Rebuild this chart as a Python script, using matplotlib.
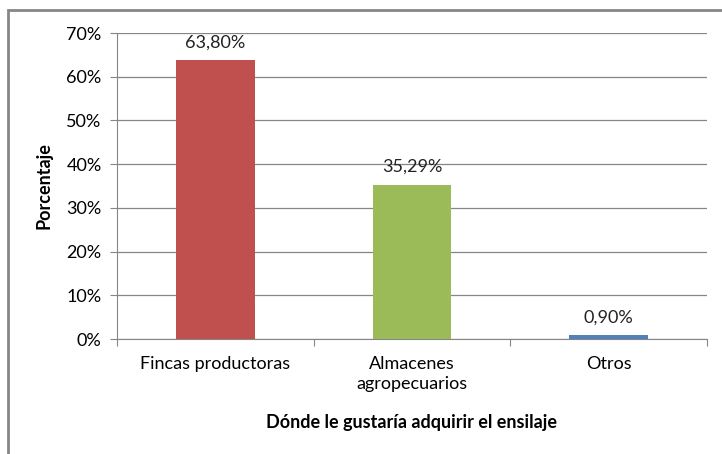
import matplotlib.pyplot as plt
from matplotlib.patches import Rectangle
from matplotlib.ticker import FuncFormatter

categorias = ["Fincas productoras", "Almacenes\nagropecuarios", "Otros"]
porcentajes = [63.80, 35.29, 0.90]
etiquetas = ["63,80%", "35,29%", "0,90%"]
colores = ["#C0504D", "#9BBB59", "#4F81BD"]

plt.rcParams['font.family'] = ['Lato', 'DejaVu Sans']

fig = plt.figure(figsize=(7.22, 4.54), dpi=100)
ax = fig.add_axes([0.162, 0.2533, 0.817, 0.674])

x = range(len(categorias))
ax.bar(x, porcentajes, width=0.4, color=colores, zorder=3)
for i, (v, t) in enumerate(zip(porcentajes, etiquetas)):
    ax.text(i, v + 2.2, t, ha='center', va='bottom', fontsize=13, color='#222222')

ax.set_xlim(-0.5, 2.5)
ax.set_ylim(0, 70)
ax.set_yticks(range(0, 71, 10))
ax.yaxis.set_major_formatter(FuncFormatter(lambda v, p: f"{int(v)}%"))
ax.yaxis.grid(True, color='#868686', linewidth=0.9, zorder=0)

ax.set_xticks([-0.5, 0.5, 1.5, 2.5], minor=False)
ax.set_xticklabels([])
ax.set_xticks(list(x), minor=True)
ax.set_xticklabels(categorias, minor=True, fontsize=13, linespacing=1.3)
ax.tick_params(axis='x', which='minor', length=0, pad=12)
ax.tick_params(axis='x', which='major', length=5, color='#868686')
ax.tick_params(axis='y', length=5, color='#868686', labelsize=13, pad=6)

for s in ['top', 'right']:
    ax.spines[s].set_visible(False)
ax.spines['left'].set_color('#868686')
ax.spines['bottom'].set_color('#868686')

ax.set_ylabel("Porcentaje", fontsize=13, fontweight='bold', labelpad=10)
ax.set_xlabel("Dónde le gustaría adquirir el ensilaje", fontsize=13, fontweight='bold', labelpad=16)

borde = Rectangle((8 / 722, -0.1), 1.2, 1.1 - 10 / 454, transform=fig.transFigure,
                  fill=False, edgecolor='#868686', linewidth=2)
fig.patches.append(borde)

fig.savefig("out.png", dpi=100)
